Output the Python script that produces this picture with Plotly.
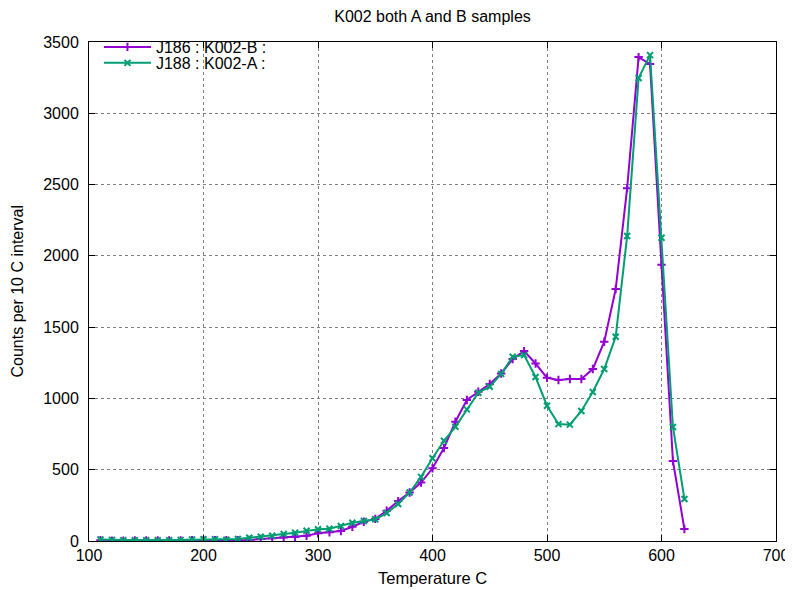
import plotly.graph_objects as go

temps = list(range(110, 630, 10))

j186_b = [5, 2, 2, 3, 3, 3, 3, 4, 5, 6, 6, 5, 5, 7, 14, 19, 25, 28, 37, 54,
          61, 70, 100, 135, 155, 212, 280, 340, 410, 510, 652, 837, 989, 1047, 1101, 1175,
          1276, 1332, 1245, 1145, 1129, 1136, 1136, 1206, 1398, 1767, 2475, 3394, 3345, 1937, 561, 84]

j188_a = [10, 8, 5, 5, 5, 5, 6, 8, 10, 12, 12, 9, 14, 23, 30, 37, 49, 58, 72, 82,
          86, 105, 128, 140, 152, 196, 260, 340, 450, 580, 703, 801, 923, 1040, 1082, 1172,
          1292, 1304, 1150, 949, 820, 816, 912, 1045, 1206, 1433, 2139, 3247, 3408, 2127, 800, 295]

x_ticks = [100, 200, 300, 400, 500, 600, 700]
y_ticks = [0, 500, 1000, 1500, 2000, 2500, 3000, 3500]

PURPLE = "#9400d3"
GREEN = "#009e73"
FONT = "Liberation Sans, Arial, sans-serif"

fig = go.Figure()
fig.add_trace(go.Scatter(
    x=temps, y=j186_b, mode="lines+markers", name="J186 : K002-B :",
    legend="legend",
    line=dict(color=PURPLE, width=2),
    marker=dict(symbol="cross-thin", size=6, color=PURPLE,
                line=dict(color=PURPLE, width=2)),
))
fig.add_trace(go.Scatter(
    x=temps, y=j188_a, mode="lines+markers", name="J188 : K002-A :",
    legend="legend2",
    line=dict(color=GREEN, width=2),
    marker=dict(symbol="x-thin", size=6, color=GREEN,
                line=dict(color=GREEN, width=2)),
))

axis_common = dict(
    showline=True, linecolor="black", linewidth=1, mirror="ticks",
    ticks="inside", ticklen=6, tickcolor="black", tickwidth=1,
    showgrid=True, gridcolor="#808080", griddash="dot", gridwidth=1,
    zeroline=False, automargin=False,
    tickfont=dict(family=FONT, size=16, color="black"),
)

legend_common = dict(xanchor="left", yanchor="middle", bgcolor="rgba(0,0,0,0)",
                     font=dict(family=FONT, size=16), itemwidth=47)

fig.update_layout(
    width=785, height=582,
    margin=dict(l=81, r=17, t=34, b=49, autoexpand=False),
    paper_bgcolor="white", plot_bgcolor="white",
    font=dict(family=FONT, size=16, color="black"),
    title=dict(text="K002 both A and B samples", x=0.5, xanchor="center",
               xref="paper", yref="container", y=1 - 8 / 582, yanchor="middle",
               font=dict(family=FONT, size=16)),
    showlegend=True,
    legend=dict(x=0.0145, y=0.990, **legend_common),
    legend2=dict(x=0.0145, y=0.958, **legend_common),
    xaxis=dict(range=[100, 700], tickvals=x_ticks, **axis_common),
    yaxis=dict(range=[0, 3500], tickvals=y_ticks, ticklabelstandoff=6, **axis_common),
    annotations=[
        dict(text="Temperature C", xref="paper", yref="paper", x=0.5, y=-37 / 499,
             xanchor="center", yanchor="middle", showarrow=False,
             font=dict(family=FONT, size=16.5)),
        dict(text="Counts per 10 C interval", xref="paper", yref="paper",
             x=-72 / 687, y=0.5, xanchor="center", yanchor="middle", textangle=-90,
             showarrow=False, font=dict(family=FONT, size=16)),
    ],
)

fig.write_html("out.html")
